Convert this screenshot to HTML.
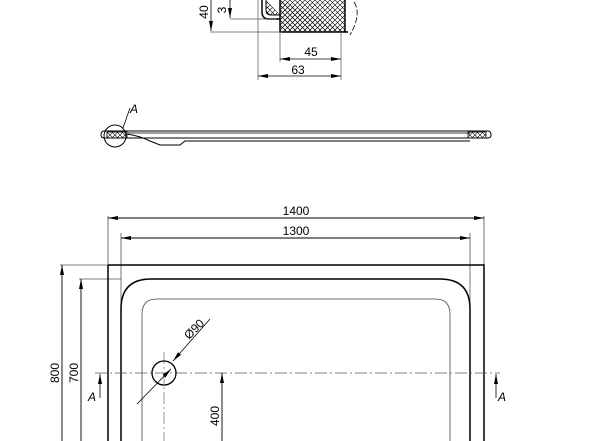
<!DOCTYPE html>
<html><head><meta charset="utf-8"><style>html,body{margin:0;padding:0;background:#fff}svg{display:block}text{font-family:"Liberation Sans",sans-serif;font-size:12px;fill:#000}</style></head><body>
<svg width="600" height="441" viewBox="0 0 600 441" xmlns="http://www.w3.org/2000/svg">
<defs>
<pattern id="h" width="5" height="5" patternUnits="userSpaceOnUse"><path d="M0 0L5 5M5 0L0 5" stroke="#000" stroke-width="0.6"/></pattern>
<marker id="a" viewBox="0 0 10 4" refX="10" refY="2" markerWidth="10" markerHeight="4" orient="auto" markerUnits="userSpaceOnUse"><path d="M0 0L10 2L0 4Z" fill="#000"/></marker>
</defs>
<g fill="none" stroke="#000">
<!-- top detail -->
<path d="M280 0V32H348" stroke-width="1.5" fill="url(#h)"/>
<rect x="281" y="0" width="64" height="31" fill="url(#h)" stroke="none"/>
<path d="M345 0V32" stroke-width="1.5"/>
<path d="M262 0V12Q262 19 269 19H280" stroke-width="1.5"/>
<path d="M266 0V10Q266 15 271 15H280" stroke-width="1" fill="url(#h)"/>
<path d="M354 2Q362 14 350 35" stroke-width="0.8" stroke-dasharray="6 2"/>
<path d="M258 0V80M280 32V62M341 32V80M230 19H276M210 32H282" stroke-width="0.7" stroke="#555"/>
<path d="M211 0V31" marker-end="url(#a)" stroke-width="0.8"/>
<path d="M230 0V18" marker-end="url(#a)" stroke-width="0.8"/>
<path d="M310 59H280" marker-end="url(#a)" stroke-width="0.8"/>
<path d="M310 59H341" marker-end="url(#a)" stroke-width="0.8"/>
<path d="M300 76H258" marker-end="url(#a)" stroke-width="0.8"/>
<path d="M300 76H341" marker-end="url(#a)" stroke-width="0.8"/>
<!-- side view -->
<path d="M104 131H488Q491 131 491 135Q491 138 488 138H104Q101 138 101 135Q101 131 104 131Z" stroke-width="1"/>
<path d="M127 134Q140 136 150 141L160 145H180L185 141H470" stroke-width="1"/>
<path d="M128 133L470 133" stroke-width="0.8"/>
<rect x="107" y="132" width="20" height="6" fill="url(#h)" stroke-width="0.8"/>
<rect x="468" y="132" width="18" height="6" fill="url(#h)" stroke-width="0.8"/>
<circle cx="115" cy="136" r="11" stroke-width="1"/>
<path d="M123 128L130 108" stroke-width="0.8"/>
<!-- plan -->
<path d="M108 216V441M484 216V265M121 233V441M470 233V441M60 265H108M79 279H121" stroke-width="0.8" stroke="#555"/>
<path d="M108 265H484V441" stroke-width="1.5"/>
<path d="M108 265V441" stroke-width="1.5"/>
<path d="M121 441V309Q121 279 151 279H440Q470 279 470 309V441" stroke-width="1.5"/>
<path d="M142 441V314Q142 299 157 299H435Q450 299 450 314V441" stroke-width="0.8" stroke="#444"/>
<path d="M95 373H500" stroke-width="0.8" stroke="#555" stroke-dasharray="12 3 2 3"/>
<path d="M164 352V441" stroke-width="0.6" stroke="#555" stroke-dasharray="12 3 2 3"/>
<circle cx="164" cy="373" r="12" stroke-width="1.3"/>
<path d="M137 404L171 369" stroke-width="0.8" marker-end="url(#a)"/>
<path d="M210 319L173 361" stroke-width="0.8" marker-end="url(#a)"/>
<path d="M296 218H108" marker-end="url(#a)" stroke-width="0.9"/>
<path d="M296 218H484" marker-end="url(#a)" stroke-width="0.9"/>
<path d="M296 238H121" marker-end="url(#a)" stroke-width="0.9"/>
<path d="M296 238H470" marker-end="url(#a)" stroke-width="0.9"/>
<path d="M62 441V265" marker-end="url(#a)" stroke-width="0.9"/>
<path d="M81 441V279" marker-end="url(#a)" stroke-width="0.9"/>
<path d="M222 441V373" marker-end="url(#a)" stroke-width="0.9"/>
<path d="M100 398V374" marker-end="url(#a)" stroke-width="0.8"/>
<path d="M496 398V374" marker-end="url(#a)" stroke-width="0.8"/>
</g>
<text x="208" y="12" transform="rotate(-90 208 12)" text-anchor="middle">40</text>
<text x="226" y="10" transform="rotate(-90 226 10)" text-anchor="middle">3</text>
<text x="311" y="56" text-anchor="middle">45</text>
<text x="298" y="74" text-anchor="middle">63</text>
<text x="130" y="113" font-style="italic">A</text>
<text x="296" y="215" text-anchor="middle">1400</text>
<text x="296" y="235" text-anchor="middle">1300</text>
<text x="59" y="373" transform="rotate(-90 59 373)" text-anchor="middle">800</text>
<text x="78" y="373" transform="rotate(-90 78 373)" text-anchor="middle">700</text>
<text x="219" y="416" transform="rotate(-90 219 416)" text-anchor="middle">400</text>
<text x="197" y="332" transform="rotate(-45 197 332)" text-anchor="middle">Ø90</text>
<text x="88" y="401" font-style="italic">A</text>
<text x="498" y="401" font-style="italic">A</text>
</svg>
</body></html>
